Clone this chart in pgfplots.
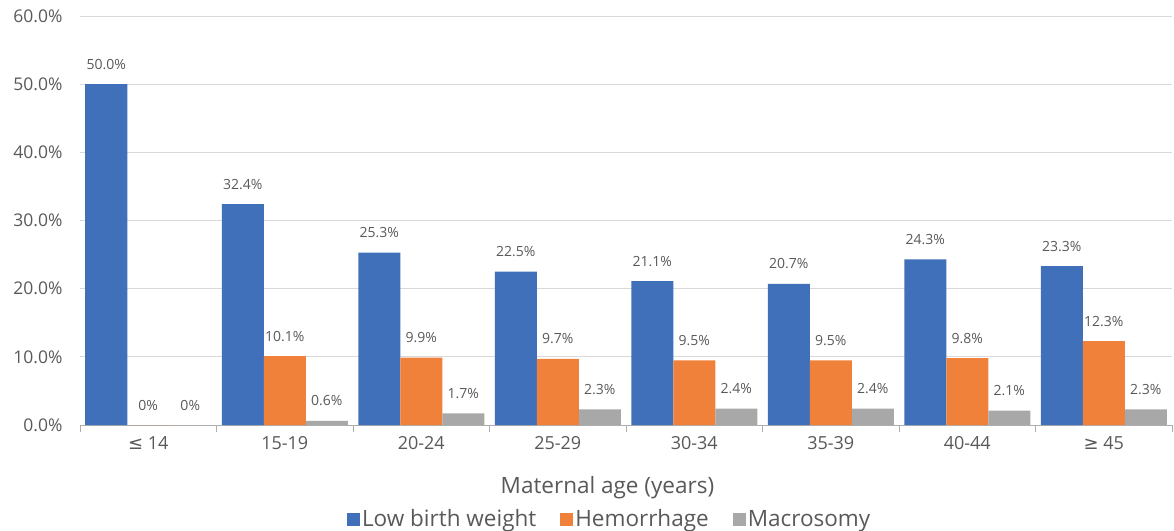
\documentclass[border=0pt]{standalone}
\usepackage{pgfplots}
\pgfplotsset{compat=1.18}
\usepackage{fontspec}
\setmainfont{Open Sans}
\newfontfamily\symfont{DejaVu Sans}
\definecolor{cblue}{HTML}{3F70B9}
\definecolor{corange}{HTML}{F0813A}
\definecolor{cgray}{HTML}{A8A8A8}
\definecolor{ctext}{HTML}{595959}
\definecolor{cgrid}{HTML}{D9D9D9}
\begin{document}
\begin{tikzpicture}
\begin{axis}[
  name=ax,
  scale only axis,
  width=1092pt, height=409pt,
  xmin=-0.5, xmax=7.5,
  ymin=0, ymax=60,
  ytick={0,10,20,30,40,50,60},
  yticklabels={0.0\%,10.0\%,20.0\%,30.0\%,40.0\%,50.0\%,60.0\%},
  xtick={0,1,2,3,4,5,6,7},
  xticklabels={{\symfont ≤} 14,15-19,20-24,25-29,30-34,35-39,40-44,{\symfont ≥} 45},
  minor xtick={-0.5,0.5,1.5,2.5,3.5,4.5,5.5,6.5,7.5},
  major tick length=0pt,
  minor tick length=7pt,
  tick pos=left,
  tick align=outside,
  minor tick style={cgrid!80!black, line width=0.8pt},
  axis x line*=bottom,
  axis y line*=left,
  y axis line style={draw=none},
  x axis line style={cgrid!80!black, line width=0.8pt, -},
  ymajorgrids,
  grid style={cgrid, line width=0.8pt},
  yticklabel style={font=\fontsize{17.5}{20}\selectfont, text=ctext, xshift=-14pt},
  xticklabel style={font=\fontsize{18}{20}\selectfont, text=ctext, yshift=-8pt},
  xlabel={Maternal age (years)},
  xlabel style={font=\fontsize{22.5}{26}\selectfont, text=ctext, at={(axis description cs:0.483,0)}, anchor=center, yshift=-63pt},
  ybar,
  bar width=42pt,
  point meta=explicit symbolic,
  nodes near coords,
  every node near coord/.append style={font=\fontsize{14}{16}\selectfont, text=ctext, anchor=center, yshift=20pt},
  legend style={at={(axis description cs:0.485,0)}, yshift=-94pt, anchor=center, draw=none, fill=none,
    font=\fontsize{22.5}{26}\selectfont, text=ctext, legend columns=3,
    /tikz/every even column/.append style={column sep=22pt},
    inner sep=0pt},
  legend image code/.code={\fill[#1] (0pt,-7pt) rectangle (13pt,6pt);},
]
\addplot[fill=cblue, draw=none, bar shift=-42pt] coordinates {
 (0,50.0) [50.0\%] (1,32.4) [32.4\%] (2,25.3) [25.3\%] (3,22.5) [22.5\%]
 (4,21.1) [21.1\%] (5,20.7) [20.7\%] (6,24.3) [24.3\%] (7,23.3) [23.3\%]};
\addplot[fill=corange, draw=none, bar shift=0pt] coordinates {
 (0,0) [0\%] (1,10.1) [10.1\%] (2,9.9) [9.9\%] (3,9.7) [9.7\%]
 (4,9.5) [9.5\%] (5,9.5) [9.5\%] (6,9.8) [9.8\%] (7,12.3) [12.3\%]};
\addplot[fill=cgray, draw=none, bar shift=42pt] coordinates {
 (0,0) [0\%] (1,0.6) [0.6\%] (2,1.7) [1.7\%] (3,2.3) [2.3\%]
 (4,2.4) [2.4\%] (5,2.4) [2.4\%] (6,2.1) [2.1\%] (7,2.3) [2.3\%]};
\legend{Low birth weight,Hemorrhage,Macrosomy}
\end{axis}
\pgfresetboundingbox
\path ([shift={(-80pt,-105pt)}]ax.south west) rectangle ([shift={(2pt,16pt)}]ax.north east);
\end{tikzpicture}
\end{document}
